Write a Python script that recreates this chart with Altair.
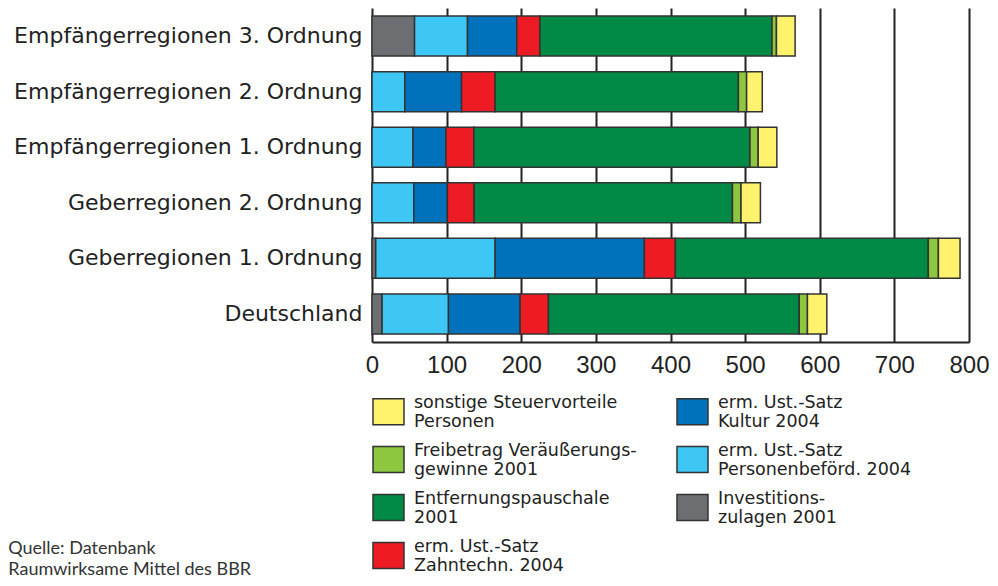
import altair as alt
import pandas as pd

regions = [
    "Empfängerregionen 3. Ordnung",
    "Empfängerregionen 2. Ordnung",
    "Empfängerregionen 1. Ordnung",
    "Geberregionen 2. Ordnung",
    "Geberregionen 1. Ordnung",
    "Deutschland",
]

# series in stacking order (left to right)
series = [
    "Investitions-\nzulagen 2001",
    "erm. Ust.-Satz\nPersonenbeförd. 2004",
    "erm. Ust.-Satz\nKultur 2004",
    "erm. Ust.-Satz\nZahntechn. 2004",
    "Entfernungspauschale\n2001",
    "Freibetrag Veräußerungs-\ngewinne 2001",
    "sonstige Steuervorteile\nPersonen",
]
invest = [57, 0, 0, 0, 5, 13.5]
personen = [71, 44, 55, 56, 160, 89]
kultur = [66, 76, 44, 45, 200, 96]
zahntechn = [31, 45, 37.5, 36, 41.5, 38]
entfernung = [311, 326, 370, 346, 339, 336]
freibetrag = [6, 11, 11, 11.5, 13.5, 11]
sonstige = [25, 21, 25, 26, 29, 26]
values = [invest, personen, kultur, zahntechn, entfernung, freibetrag, sonstige]

colors = ["#6d6e71", "#3ec7f4", "#0071bb", "#ed1c24", "#008a45", "#8dc63f", "#fff36d"]

# legend order (column-major, 2 columns)
legend_order = [6, 5, 4, 3, 2, 1, 0]

x_ticks = [0, 100, 200, 300, 400, 500, 600, 700, 800]
source_lines = ["Quelle: Datenbank", "Raumwirksame Mittel des BBR"]

rows = []
for si, (name, vals) in enumerate(zip(series, values)):
    for r, v in zip(regions, vals):
        rows.append({"region": r, "series": name, "value": v, "order": si})
df = pd.DataFrame(rows)

bars = alt.Chart(df).mark_bar(stroke="#333333", strokeWidth=1.5).encode(
    y=alt.Y(
        "region:N",
        sort=regions,
        scale=alt.Scale(paddingInner=0.28, paddingOuter=0.145),
        axis=alt.Axis(
            title=None, domain=False, ticks=False, grid=False,
            labelFont="DejaVu Sans", labelFontSize=22, labelColor="#222222",
            labelPadding=10, labelLimit=600,
        ),
    ),
    x=alt.X(
        "value:Q",
        stack="zero",
        scale=alt.Scale(domain=[0, 800], nice=False),
        axis=alt.Axis(
            title=None, values=x_ticks, ticks=False, grid=True,
            gridColor="#222222", gridWidth=2, gridOpacity=1,
            domain=True, domainColor="#222222", domainWidth=2,
            labelFont="Liberation Sans", labelFontSize=24, labelColor="#222222",
            labelPadding=11, labelFlush=False, labelOverlap=False,
        ),
    ),
    color=alt.Color(
        "series:N",
        scale=alt.Scale(domain=[series[i] for i in legend_order],
                        range=[colors[i] for i in legend_order]),
        legend=alt.Legend(
            title=None, orient="none", legendX=0, legendY=387,
            columns=2, columnPadding=37, rowPadding=10, padding=0,
            symbolType="M-1,-0.84H1V0.84H-1Z", symbolSize=961,
            symbolStrokeColor="#333333", symbolStrokeWidth=1.5, symbolOpacity=1,
            labelFont="DejaVu Sans", labelFontSize=17.5, labelColor="#222222",
            labelOffset=9, labelLimit=400, labelBaseline="bottom",
            labelExpr="split(datum.label, '\\n')",
        ),
    ),
    order=alt.Order("order:Q"),
)

src = alt.Chart(alt.Data(values=[{"k": 0}])).mark_text(
    align="left", baseline="alphabetic", font="Lato", fontSize=18,
    lineHeight=21, color="#333333",
).encode(
    x=alt.value(-363.7),
    y=alt.value(546),
    text=alt.value(source_lines),
)

chart = alt.layer(bars, src).properties(
    width=597, height=334,
    autosize=alt.AutoSizeParams(type="none"),
    padding={"left": 364, "top": 0, "right": 21, "bottom": 236},
).configure_view(stroke="transparent")

chart.save("out.html", embed_options={"renderer": "svg", "actions": False})
